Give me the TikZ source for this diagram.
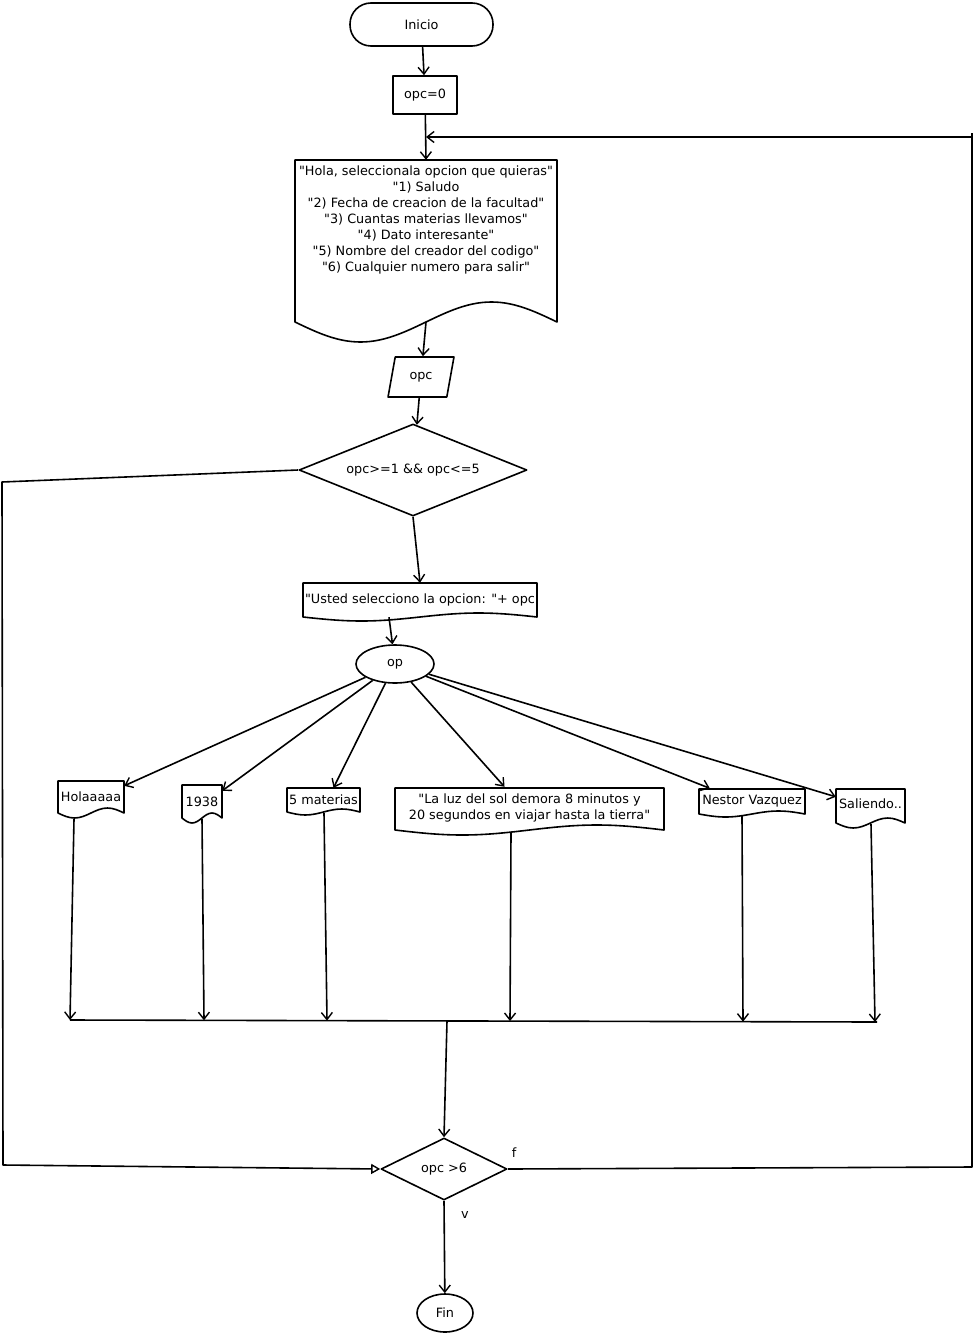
\documentclass[tikz,border=0pt]{standalone}
\usepackage{fontspec}
\setmainfont{DejaVu Sans}[Ligatures=TeXOff]
\usetikzlibrary{arrows.meta,shapes.geometric,calc}
\tikzset{
  every node/.style={font=\fontsize{12.8}{16}\selectfont, inner sep=0pt},
  ln/.style={line width=1.6pt, line join=round},
  arr/.style={ln, -{Straight Barb[length=7pt,width=11pt,line width=1.4pt]}},
  tri/.style={ln, -{Triangle[open,length=9pt,width=10pt,line width=1.4pt]}},
  boxshape/.style={draw, ln},
  decis/.style={diamond, draw, ln},
  term/.style={ellipse, draw, ln},
}
\newcommand\docwave[5]{%
  \pgfmathsetmacro\dwA{#3-(#3-#1)/4}%
  \pgfmathsetmacro\dwB{(#1+#3)/2}%
  \pgfmathsetmacro\dwC{#1+(#3-#1)/4}%
  \draw[ln] (#1,#2) -- (#3,#2) -- (#3,#4) sin (\dwA,{#4-#5}) cos (\dwB,#4) sin (\dwC,{#4+#5}) cos (#1,#4) -- cycle;}
\begin{document}
\begin{tikzpicture}[x=1pt,y=-1pt]
\useasboundingbox (0,0) rectangle (975,1335);
\fill[white] (0,0) rectangle (975,1335);

% nodes
\node[boxshape, rounded corners=21pt, minimum width=143pt, minimum height=43pt] (ini) at (421.5,24.5) {Inicio};
\node[boxshape, minimum width=64pt, minimum height=38pt] (opc0) at (425,95) {opc=0};

\docwave{295}{160}{557}{322}{20}
\node[minimum width=262pt, minimum height=162pt] (menu) at (426,241) {};
\node[align=center] (menutxt) at (426,220) {"Hola, seleccionala opcion que quieras"\\"1) Saludo\\"2) Fecha de creacion de la facultad"\\"3) Cuantas materias llevamos"\\"4) Dato interesante"\\"5) Nombre del creador del codigo"\\"6) Cualquier numero para salir"};

\node[trapezium, trapezium left angle=72, trapezium right angle=108, trapezium stretches=true, boxshape, minimum width=66pt, minimum height=40pt] (inp) at (421,377) {opc};

\node[decis, aspect=2.48, minimum width=228pt, minimum height=92pt] (d1) at (413,470) {opc>=1 \&\& opc<=5};

\docwave{303}{583}{537}{617}{4}
\node[minimum width=234pt, minimum height=34pt] (usted) at (420,600) {"Usted selecciono la opcion: "+ opc};

\node[term, minimum width=78pt, minimum height=38pt] (op) at (395,664) {op};

\docwave{58}{781}{124}{813}{5}
\node[minimum width=66pt, minimum height=32pt] (hola) at (91,797) {Holaaaaa};
\docwave{182}{785}{222}{818}{5}
\node[minimum width=40pt, minimum height=33pt] (y1938) at (202,801.5) {1938};
\docwave{287}{788}{360}{812}{3}
\node[minimum width=73pt, minimum height=24pt] (mat) at (323.5,800) {5 materias};
\docwave{395}{788}{664}{830}{5}
\node[minimum width=269pt, minimum height=42pt, align=center] (luz) at (529.5,808) {"La luz del sol demora 8 minutos y\\20 segundos en viajar hasta la tierra"};
\docwave{699}{789}{805}{814}{3}
\node[minimum width=106pt, minimum height=25pt] (nes) at (752,801) {Nestor Vazquez};
\docwave{836}{789}{905}{823}{5}
\node[minimum width=69pt, minimum height=34pt] (sal) at (870.5,804) {Saliendo..};

\node[decis, aspect=2.03, minimum width=126pt, minimum height=62pt] (d2) at (444,1169) {opc >6};
\node (lf) at (514,1153) {f};
\node (lv) at (465,1215) {v};
\node[term, minimum width=56pt, minimum height=38pt] (fin) at (445,1313) {Fin};

% coordinates
\coordinate (L1) at (2,482);
\coordinate (L2) at (3,1165);
\coordinate (R1) at (972,1167);
\coordinate (R2) at (972,137);
\coordinate (R3) at (426,137);
\coordinate (Rtop) at (972,133);
\coordinate (s1) at (74,819);
\coordinate (s2) at (202,819);
\coordinate (s3) at (324,813);
\coordinate (s4) at (511,832);
\coordinate (s5) at (742,816);
\coordinate (s6) at (871,824);
\coordinate (j1) at (70,1020);
\coordinate (j2) at (204,1020.3);
\coordinate (j3) at (327,1020.6);
\coordinate (j4) at (510,1021.1);
\coordinate (j5) at (743,1021.7);
\coordinate (j6) at (875,1022);
\coordinate (jR) at (877,1022);
\coordinate (jm) at (447,1021);

% connectors
\draw[arr] (ini) -- (opc0);
\draw[arr] (opc0) -- (menu.north);
\draw[arr] (menu.south) -- (inp);
\draw[arr] (inp) -- (d1);
\draw[arr] (d1.south) -- (usted.north);
\draw[arr] ([xshift=-31pt]usted.south) -- (op);
\draw[arr] (op) -- ([yshift=-5pt]hola.north east);
\draw[arr] (op) -- ([yshift=-6pt]y1938.north east);
\draw[arr] (op) -- ([xshift=10pt]mat.north);
\draw[arr] (op) -- ([xshift=-25pt]luz.north);
\draw[arr] (op) -- ([xshift=11pt]nes.north west);
\draw[arr] (op) -- ([yshift=-10pt]sal.north west);
\draw[arr] (s1) -- (j1);
\draw[arr] (s2) -- (j2);
\draw[arr] (s3) -- (j3);
\draw[arr] (s4) -- (j4);
\draw[arr] (s5) -- (j5);
\draw[arr] (s6) -- (j6);
\draw[ln] (j1) -- (jR);
\draw[arr] (jm) -- (d2.north);
\draw[arr] (d2.south) -- (fin);
\draw[tri] (d1.west) -- (L1) -- (L2) -- (d2.west);
\draw[arr] (d2.east) -- (R1) -- (R2) -- (R3);
\draw[ln] (R2) -- (Rtop);
\end{tikzpicture}
\end{document}
